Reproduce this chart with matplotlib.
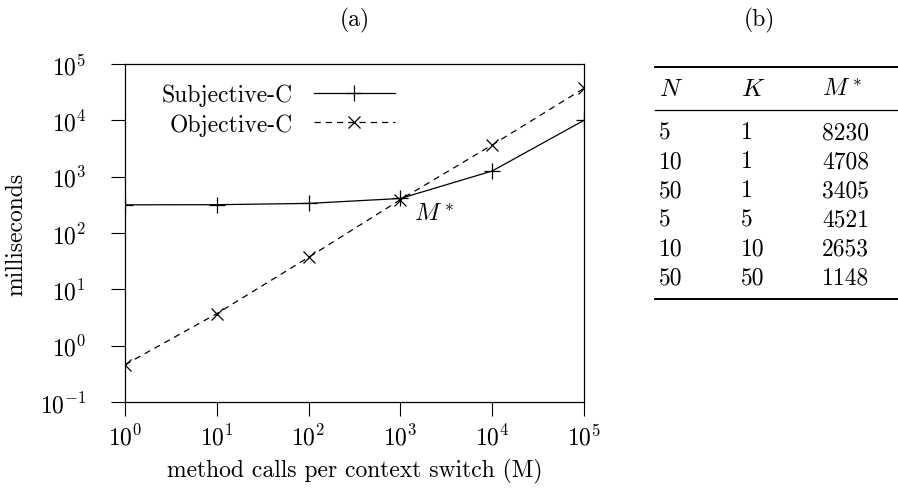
import matplotlib.pyplot as plt
from matplotlib.lines import Line2D

plt.rcParams['font.family'] = 'serif'
plt.rcParams['font.serif'] = ['cmr10']
plt.rcParams['mathtext.fontset'] = 'cm'
plt.rcParams['axes.formatter.use_mathtext'] = True
plt.rcParams['font.size'] = 17

# data
calls = [1, 10, 100, 1000, 10000, 100000]
subjective = [316, 318, 335, 410, 1260, 10000]
objective = [0.46, 3.7, 37, 390, 3650, 37000]

tab_n = ['5', '10', '50', '5', '10', '50']
tab_k = ['1', '1', '1', '5', '10', '50']
tab_m = ['8230', '4708', '3405', '4521', '2653', '1148']

fig = plt.figure(figsize=(8.98, 4.89), dpi=100)

# (a) plot
ax = fig.add_axes([0.1392, 0.1759, 0.5111, 0.6912])
ax.plot(calls, subjective, color='black', lw=0.9, marker='+', ms=12,
        mew=0.9, label='Subjective-C')
ax.plot(calls, objective, color='black', lw=0.9, ls=(0, (5, 4)), marker='x',
        ms=8, mew=0.9, label='Objective-C')
ax.set_xscale('log')
ax.set_yscale('log')
ax.set_xlim(1, 1e5)
ax.set_ylim(1e-1, 1e5)
ax.set_xticks([1e0, 1e1, 1e2, 1e3, 1e4, 1e5])
ax.set_yticks([1e-1, 1e0, 1e1, 1e2, 1e3, 1e4, 1e5])
ax.minorticks_off()
ax.tick_params(direction='out', length=10, width=0.8, labelsize=17)
ax.tick_params(axis='x', pad=6)
ax.tick_params(axis='y', pad=18)
for s in ax.spines.values():
    s.set_linewidth(0.9)
ax.set_xlabel('method calls per context switch (M)', fontsize=17, labelpad=6)
ax.set_ylabel('milliseconds', fontsize=17, labelpad=9)
ax.text(1400, 215, '$M^*$', fontsize=18, va='center', ha='left')
ax.legend(loc='upper left', frameon=False, markerfirst=False, fontsize=17,
          handlelength=3.4, handletextpad=0.9, borderaxespad=0.0,
          labelspacing=0.3, bbox_to_anchor=(0.06, 0.97))
fig.text(0.395, 0.958, '(a)', ha='center', va='center', fontsize=17)

# (b) table
fig.text(0.846, 0.958, '(b)', ha='center', va='center', fontsize=17)
tx = [659 / 898, 741 / 898, 822 / 898]
hdr_y = 1 - 90 / 489
fig.text(tx[0], hdr_y, '$N$', ha='left', va='center', fontsize=18)
fig.text(tx[1], hdr_y, '$K$', ha='left', va='center', fontsize=18)
fig.text(tx[2], hdr_y, '$M^*$', ha='left', va='center', fontsize=18)
for i in range(len(tab_n)):
    y = 1 - (133 + 29 * i) / 489
    fig.text(tx[0], y, tab_n[i], ha='left', va='center', fontsize=17)
    fig.text(tx[1], y, tab_k[i], ha='left', va='center', fontsize=17)
    fig.text(tx[2], y, tab_m[i], ha='left', va='center', fontsize=17)
for yy, lw in [(68, 1.4), (111, 0.9), (300, 1.4)]:
    fig.add_artist(Line2D([655 / 898, 1.0], [1 - yy / 489, 1 - yy / 489],
                          color='black', lw=lw, transform=fig.transFigure))

fig.savefig('out.png', dpi=100)
